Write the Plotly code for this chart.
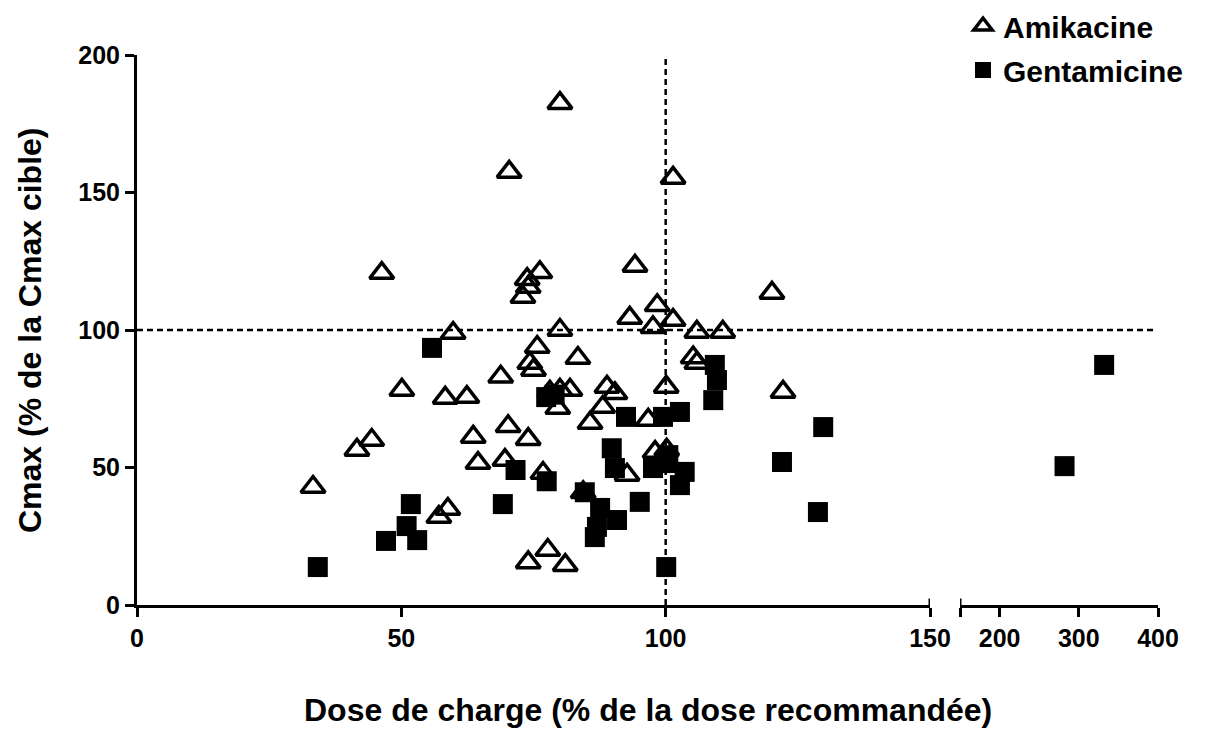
import plotly.graph_objects as go

# ---- data ----
amik_dose = [33.3, 41.6, 44.4, 46.3, 50.1, 57.1, 58.8, 58.3, 59.8, 62.4, 63.6, 64.5, 68.8, 69.6,
             70.2, 70.4, 73.0, 74.0, 73.8, 76.2, 74.0, 74.0, 74.3, 75.0, 75.7, 76.8, 77.7, 78.1,
             79.6, 80.0, 80.0, 80.0, 81.0, 81.9, 83.4, 84.4, 85.7, 88.1, 88.9, 90.4, 92.7, 93.2,
             94.2, 96.7, 97.6, 98.0, 98.4, 100.1, 100.2, 101.4, 101.4, 105.2, 105.9, 105.9,
             110.8, 120.1, 122.2]
amik_cmax = [42.9, 56.4, 60.0, 120.7, 78.2, 32.0, 34.9, 75.3, 98.9, 75.6, 61.1, 51.6, 83.0, 52.7,
             65.0, 157.5, 112.0, 115.6, 118.5, 121.0, 60.3, 15.5, 88.0, 85.5, 93.8, 48.0, 20.0, 77.5,
             71.6, 78.2, 100.0, 182.5, 14.5, 78.2, 89.8, 41.0, 66.2, 72.0, 79.3, 77.0, 47.3, 104.4,
             123.3, 67.3, 101.0, 55.6, 109.0, 79.3, 56.4, 103.6, 155.3, 90.0, 88.0, 99.3,
             99.3, 113.5, 77.5]

genta_dose = [34.2, 47.1, 51.0, 51.8, 53.0, 55.8, 69.2, 71.6, 77.4, 79.0, 77.5, 84.7, 86.6, 87.0,
              87.6, 89.8, 90.4, 90.8, 92.5, 95.1, 97.6, 99.5, 100.2, 100.1, 100.5, 102.7, 102.7,
              103.6, 109.0, 109.3, 109.7, 122.0, 128.8, 129.8, 282.0, 332.0]
genta_cmax = [13.8, 23.3, 28.7, 36.7, 23.6, 93.5, 36.7, 49.1, 75.6, 76.5, 45.0, 41.0, 24.7, 28.4,
              35.3, 57.0, 49.8, 30.9, 68.4, 37.5, 49.8, 68.4, 51.6, 13.8, 54.5, 70.2, 43.6,
              48.4, 74.5, 87.3, 81.8, 52.0, 33.8, 64.7, 50.5, 87.3]

left_ticks = [0, 50, 100, 150]
right_ticks = [150, 200, 300, 400]
right_ticktext = ["", "200", "300", "400"]
y_ticks = [0, 50, 100, 150, 200]
BREAK = 150

FONT = "Liberation Sans, Arial, sans-serif"

gl_x = [x for x in genta_dose if x <= BREAK]
gl_y = [y for x, y in zip(genta_dose, genta_cmax) if x <= BREAK]
gr_x = [x for x in genta_dose if x > BREAK]
gr_y = [y for x, y in zip(genta_dose, genta_cmax) if x > BREAK]

tri = dict(symbol="triangle-up-open", size=21, color="black", line=dict(width=3.5, color="black"))
sq = dict(symbol="square", size=20, color="black", line=dict(width=0))

fig = go.Figure()
fig.add_trace(go.Scatter(x=amik_dose, y=amik_cmax, mode="markers", name="Amikacine",
                         marker=tri, legendgroup="a", xaxis="x", yaxis="y"))
fig.add_trace(go.Scatter(x=gl_x, y=gl_y, mode="markers", name="Gentamicine",
                         marker=sq, legendgroup="g", xaxis="x", yaxis="y"))
fig.add_trace(go.Scatter(x=gr_x, y=gr_y, mode="markers", name="Gentamicine",
                         marker=sq, legendgroup="g", showlegend=False, xaxis="x2", yaxis="y"))

W, H = 1190, 724
ML, MR, MT, MB = 129, 40, 47, 127
PW = W - ML - MR
d1 = 793 / PW
d2 = 823 / PW
axis_common = dict(showline=True, linewidth=3, linecolor="black", ticks="outside",
                   ticklen=9, tickwidth=3, tickcolor="black", showgrid=False, zeroline=False,
                   tickfont=dict(family=FONT, size=25, color="black", weight="bold"))

fig.update_layout(
    width=W, height=H,
    margin=dict(l=ML, r=MR, t=MT, b=MB, autoexpand=False),
    paper_bgcolor="white", plot_bgcolor="white",
    xaxis=dict(domain=[0, d1], range=[0, 150], tickvals=left_ticks, anchor="y", **axis_common),
    xaxis2=dict(domain=[d2, 1], range=[150, 400], tickvals=right_ticks, ticktext=right_ticktext,
                anchor="y", **axis_common),
    yaxis=dict(domain=[0, 1], range=[0, 200], tickvals=y_ticks, anchor="x", **axis_common),
    legend=dict(x=0.809, y=1.1, xanchor="left", yanchor="top", tracegroupgap=2,
                font=dict(family=FONT, size=30, color="black", weight="bold"),
                bgcolor="rgba(0,0,0,0)"),
    showlegend=True,
)

# reference lines
fig.add_shape(type="line", xref="paper", yref="y", x0=0, x1=0.997, y0=100, y1=100,
              line=dict(color="black", width=2.5, dash="6px,4px"), layer="below")
fig.add_shape(type="line", xref="x", yref="y", x0=100, x1=100, y0=0, y1=200,
              line=dict(color="black", width=2.5, dash="6px,4px"), layer="below")
# break marks extending above the axis
for xr, xv in (("x", 150), ("x2", 150)):
    fig.add_shape(type="line", xref=xr, yref="paper", x0=xv, x1=xv, y0=0, y1=0.012,
                  line=dict(color="black", width=3))

# axis titles
fig.add_annotation(text="Dose de charge (% de la dose recommandée)", xref="paper", yref="paper",
                   x=0.5, y=-0.19, xanchor="center", yanchor="middle", showarrow=False,
                   font=dict(family=FONT, size=32, color="black", weight="bold"))
fig.add_annotation(text="Cmax (% de la Cmax cible)", xref="paper", yref="paper",
                   x=-0.1048, y=0.5, xanchor="center", yanchor="middle", textangle=-90,
                   showarrow=False,
                   font=dict(family=FONT, size=32, color="black", weight="bold"))

fig.write_html("out.html")
